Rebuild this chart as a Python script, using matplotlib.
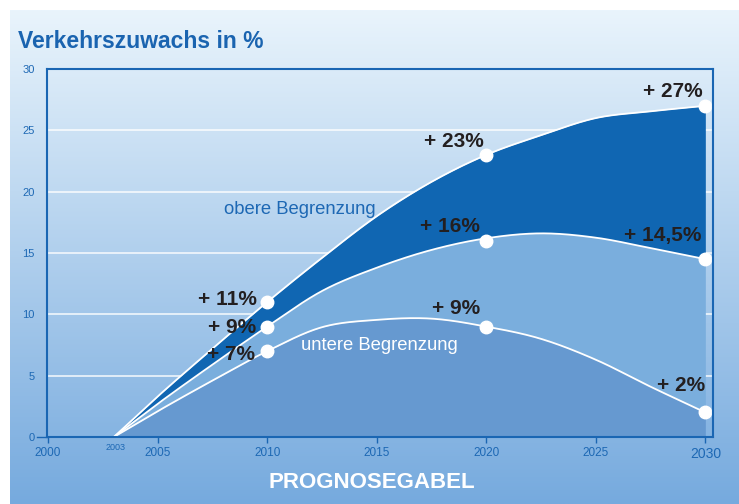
import numpy as np
import matplotlib
matplotlib.use("Agg")
import matplotlib.pyplot as plt

# ---- data ----
years = [2003, 2005, 2007.5, 2010, 2012.5, 2015, 2017.5, 2020, 2022.5, 2025, 2027.5, 2030]
upper = [0, 3.3, 7.2, 11, 14.6, 18.0, 20.8, 23, 24.6, 26.0, 26.55, 27]
middle = [0, 2.7, 5.9, 9, 11.9, 13.8, 15.25, 16.2, 16.6, 16.25, 15.4, 14.5]
lower = [0, 2.1, 4.6, 7, 8.95, 9.55, 9.65, 9.0, 8.0, 6.3, 4.1, 2.0]

marker_years = [2010, 2020, 2030]
upper_marks = [11, 23, 27]
middle_marks = [9, 16, 14.5]
lower_marks = [7, 9, 2]

upper_labels = ["+ 11%", "+ 23%", "+ 27%"]
middle_labels = ["+ 9%", "+ 16%", "+ 14,5%"]
lower_labels = ["+ 7%", "+ 9%", "+ 2%"]

yticks = [0, 5, 10, 15, 20, 25, 30]
xticks = [2000, 2005, 2010, 2015, 2020, 2025]

title = "Verkehrszuwachs in %"
footer = "PROGNOSEGABEL"

# ---- helpers ----
def smooth(x, y, n=400):
    """Cubic Hermite curve through the read points (drawing only)."""
    x = np.asarray(x, float); y = np.asarray(y, float)
    dx = np.diff(x)
    d = np.diff(y) / dx
    m = np.empty_like(y)
    m[0] = d[0]; m[-1] = d[-1]
    m[1:-1] = (d[:-1] * dx[1:] + d[1:] * dx[:-1]) / (dx[1:] + dx[:-1])
    xs = np.linspace(x[0], x[-1], n)
    idx = np.clip(np.searchsorted(x, xs) - 1, 0, len(x) - 2)
    h = x[idx + 1] - x[idx]
    t = (xs - x[idx]) / h
    h00 = 2*t**3 - 3*t**2 + 1; h10 = t**3 - 2*t**2 + t
    h01 = -2*t**3 + 3*t**2; h11 = t**3 - t**2
    ys = h00*y[idx] + h10*h*m[idx] + h01*y[idx+1] + h11*h*m[idx+1]
    return xs, ys

narrow = ["Liberation Sans Narrow", "Liberation Sans", "DejaVu Sans"]
sans = ["Liberation Sans", "DejaVu Sans"]
blue_txt = "#1d68b4"
dark_txt = "#231f20"

fig = plt.figure(figsize=(7.39, 5.04), dpi=100)
fig.patch.set_facecolor("white")

# background gradient panel
bg = fig.add_axes([10/739, 0, 1 - 10/739, 494/504], zorder=0)
top = np.array([233, 244, 252]) / 255
bot = np.array([118, 170, 222]) / 255
t = np.linspace(0, 1, 256)[:, None]
grad = (1 - t) * top + t * bot
bg.imshow(grad[:, None, :].repeat(2, axis=1), aspect="auto", extent=[0, 1, 0, 1])
bg.set_axis_off()

ax = fig.add_axes([47/739, 1 - 437/504, (713 - 47)/739, (437 - 69)/504], zorder=1)
ax.patch.set_alpha(0)
ax.set_xlim(1999.95, 2030.35)
ax.set_ylim(0, 30)

xu, yu = smooth(years, upper)
xm, ym = smooth(years, middle)
xl, yl = smooth(years, lower)

for yv in yticks[1:-1]:
    ax.axhline(yv, color="white", lw=1.2, alpha=0.85, zorder=1)

ax.fill_between(xu, ym, yu, color="#1066b2", lw=0, zorder=2)
ax.fill_between(xu, yl, ym, color="#7aaedd", lw=0, zorder=2)
ax.fill_between(xu, 0, yl, color="#6699d0", lw=0, zorder=2)
for ys in (yu, ym, yl):
    ax.plot(xu, ys, color="white", lw=1.3, zorder=3)
for vals in (upper_marks, middle_marks, lower_marks):
    ax.plot(marker_years, vals, "o", color="white", ms=9, mec="white", zorder=4, clip_on=False)

lab_kw = dict(fontsize=15, fontweight="bold", color=dark_txt, family=sans, zorder=5)
# 2010 labels (right aligned left of markers)
ax.text(2009.55, 11.2, upper_labels[0], ha="right", va="center", **lab_kw)
ax.text(2009.5, 8.9, middle_labels[0], ha="right", va="center", **lab_kw)
ax.text(2009.45, 6.7, lower_labels[0], ha="right", va="center", **lab_kw)
# 2020 labels
ax.text(2018.5, 24.1, upper_labels[1], ha="center", va="center", **lab_kw)
ax.text(2018.35, 17.2, middle_labels[1], ha="center", va="center", **lab_kw)
ax.text(2018.6, 10.5, lower_labels[1], ha="center", va="center", **lab_kw)
# 2030 labels
ax.text(2028.5, 28.2, upper_labels[2], ha="center", va="center", **lab_kw)
ax.text(2028.05, 16.4, middle_labels[2], ha="center", va="center", **lab_kw)
ax.text(2028.9, 4.2, lower_labels[2], ha="center", va="center", **lab_kw)

ax.text(2011.5, 18.55, "obere Begrenzung", ha="center", va="center", fontsize=13.3,
        color=blue_txt, family=sans, zorder=5)
ax.text(2015.1, 7.5, "untere Begrenzung", ha="center", va="center", fontsize=13.3,
        color="white", family=sans, zorder=5)

for s in ax.spines.values():
    s.set_color("#1a66b3"); s.set_linewidth(1.5); s.set_zorder(6)

ax.set_yticks(yticks)
ax.set_yticklabels([str(v) for v in yticks], family=narrow, fontsize=8, color=blue_txt)
ax.tick_params(axis="y", length=0, pad=9)
ax.set_xticks(xticks + [2030])
ax.set_xticklabels([str(v) for v in xticks] + ["2030"], family=narrow, fontsize=8.5, color=blue_txt)
ax.get_xticklabels()[-1].set_fontsize(10)
ax.tick_params(axis="x", length=4, width=1, color="#1a66b3", pad=3, direction="out")
ax.text(2003.1, -0.5, "2003", ha="center", va="top", fontsize=6.5, color=blue_txt, family=narrow)
ax.plot([1999.95, 1999.5], [0, 0], color="#1a66b3", lw=1, clip_on=False)

fig.text(18/739, 1 - 42/504, title, ha="left", va="center", fontsize=16.5, fontweight="bold",
         color="#1a64b0", family=sans)
fig.text(372/739, 1 - 483/504, footer, ha="center", va="center", fontsize=16, fontweight="bold",
         color="white", family=narrow)

fig.savefig("out.png", dpi=100, facecolor="white")
